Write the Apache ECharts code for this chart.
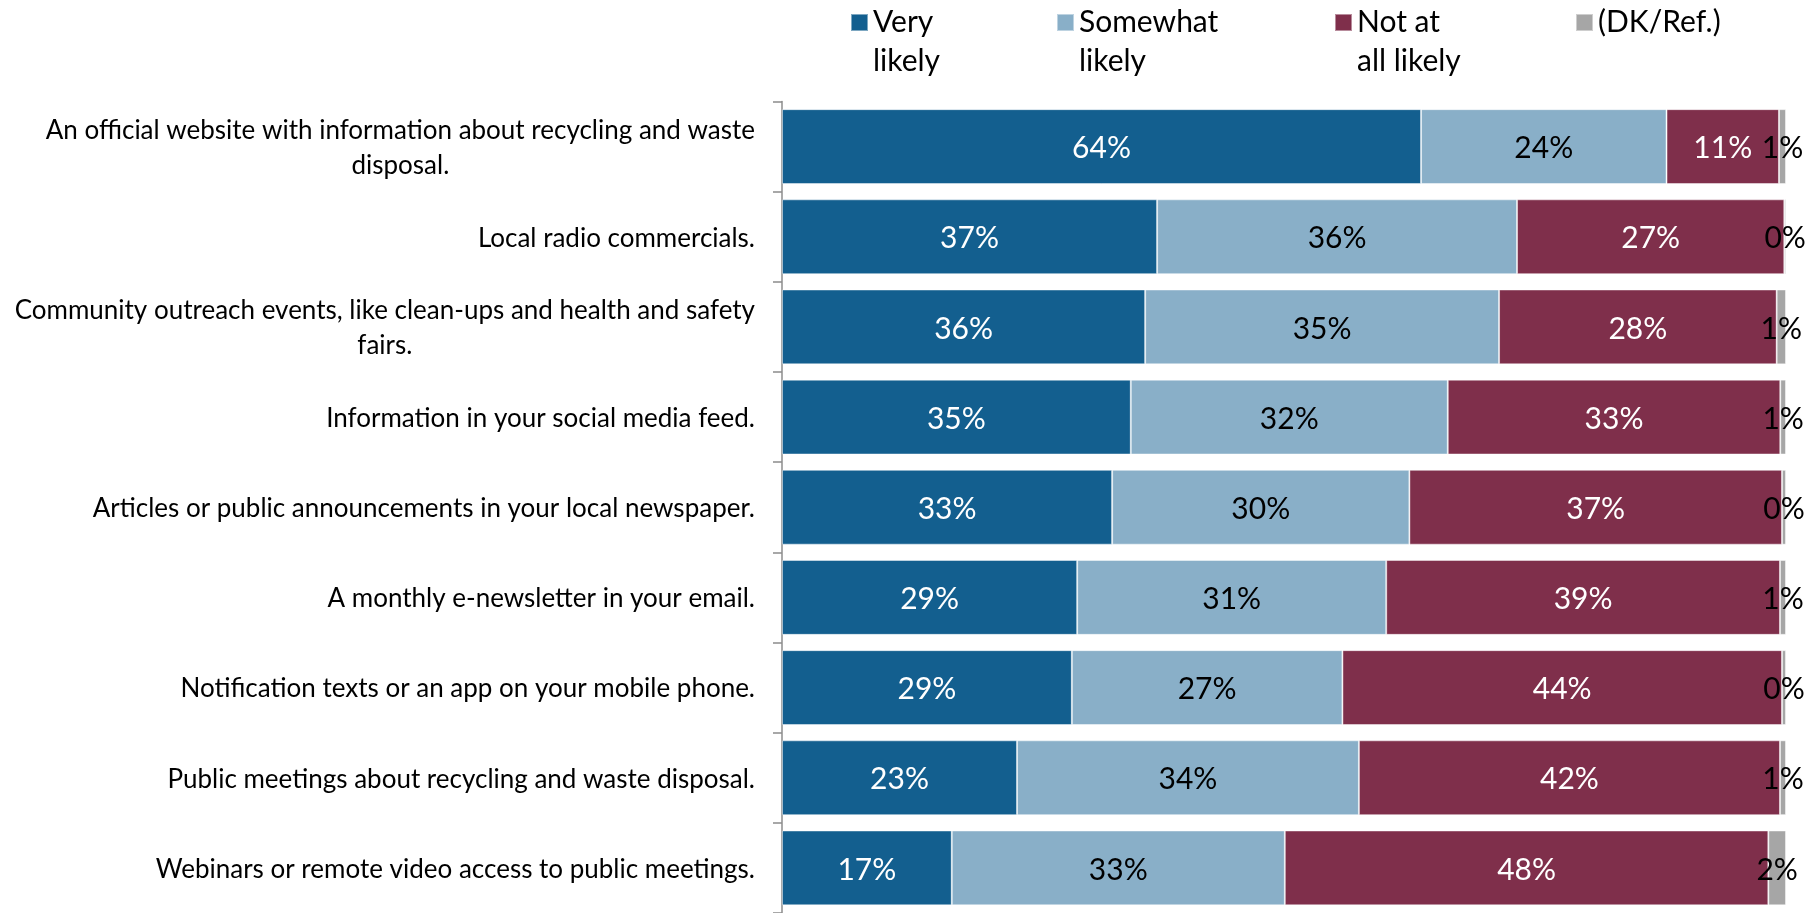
<!DOCTYPE html>
<html>
<head>
<meta charset="utf-8">
<script src="https://cdn.jsdelivr.net/npm/echarts@6/dist/echarts.min.js"></script>
<style>
html,body{margin:0;padding:0;background:#fff;}
#chart{width:1819px;height:913px;}
</style>
</head>
<body>
<div id="chart"></div>
<script>
const categories = [
  "An official website with information about recycling and waste\ndisposal.",
  "Local radio commercials.",
  "Community outreach events, like clean-ups and health and safety\nfairs.",
  "Information in your social media feed.",
  "Articles or public announcements in your local newspaper.",
  "A monthly e-newsletter in your email.",
  "Notification texts or an app on your mobile phone.",
  "Public meetings about recycling and waste disposal.",
  "Webinars or remote video access to public meetings."
];
const seriesNames = ["Very likely", "Somewhat likely", "Not at all likely", "(DK/Ref.)"];
const legendLabels = ["\nVery\nlikely", "\nSomewhat\nlikely", "\nNot at\nall likely", "(DK/Ref.)"];
const veryLikely     = [63.65, 37.36, 36.17, 34.74, 32.88, 29.40, 28.87, 23.41, 16.91];
const somewhatLikely = [24.45, 35.85, 35.25, 31.57, 29.61, 30.78, 26.95, 34.05, 33.17];
const notAtAllLikely = [11.20, 26.62, 27.65, 33.12, 37.11, 39.22, 43.78, 41.94, 48.16];
const dkRef          = [0.70, 0.17, 0.93, 0.57, 0.40, 0.60, 0.40, 0.60, 1.76];

const colors = ["#135F8F", "#89AFC8", "#7F2F4B", "#A6A6A6"];
const labelColors = ["#ffffff", "#000000", "#ffffff", "#000000"];
const values = [veryLikely, somewhatLikely, notAtAllLikely, dkRef];

const FONT = "Lato";
const chart = echarts.init(document.getElementById('chart'), null, {renderer: 'canvas'});

const legendLefts = [850, 1056, 1334, 1575];
const legends = seriesNames.map((name, i) => {
  const multi = legendLabels[i].indexOf('\n') >= 0;
  return {
    data: [name],
    left: legendLefts[i],
    top: multi ? -36 : 3,
    padding: 0,
    itemWidth: 17,
    itemHeight: 17,
    itemGap: 0,
    icon: 'rect',
    selectedMode: false,
    formatter: () => legendLabels[i],
    textStyle: {
      fontFamily: FONT,
      fontSize: 30,
      color: '#000',
      lineHeight: 39
    }
  };
});

const series = seriesNames.map((name, i) => ({
  name: name,
  type: 'bar',
  stack: 'total',
  barCategoryGap: '17%',
  data: values[i],
  itemStyle: {color: colors[i], borderColor: 'rgba(255,255,255,0.45)', borderWidth: 1},
  label: {
    show: true,
    position: 'inside',
    offset: [0, 2],
    formatter: p => Math.round(p.value) + '%',
    color: labelColors[i],
    fontFamily: FONT,
    fontSize: 30
  },
  emphasis: {disabled: true}
}));

chart.setOption({
  animation: false,
  textStyle: {fontFamily: FONT},
  legend: legends,
  grid: {left: 782, top: 101.5, width: 1004, height: 815, containLabel: false},
  xAxis: {
    type: 'value', min: 0, max: 100, show: false
  },
  yAxis: {
    type: 'category',
    inverse: true,
    data: categories,
    axisLine: {show: true, lineStyle: {color: '#8c8c8c', width: 1.5}},
    axisTick: {show: true, length: 9, lineStyle: {color: '#8c8c8c', width: 1.5}},
    axisLabel: {
      margin: 27,
      align: 'right',
      fontFamily: FONT,
      fontSize: 26,
      lineHeight: 35,
      color: '#000',
      formatter: v => v.split('\n').map(s => '{c|' + s + '}').join('\n'),
      rich: {c: {align: 'center', fontFamily: FONT, fontSize: 26, lineHeight: 35, color: '#000', padding: [3, 0, 0, 0]}}
    }
  },
  series: series
});
</script>
</body>
</html>
